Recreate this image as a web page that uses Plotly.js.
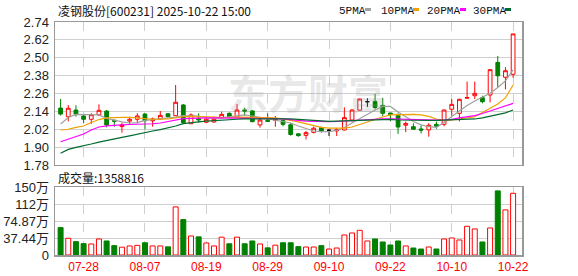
<!DOCTYPE html>
<html><head><meta charset="utf-8">
<script src="https://cdn.plot.ly/plotly-3.0.1.min.js"></script>
<style>html,body{margin:0;padding:0;background:#fff}#chart{width:578px;height:276px}</style>
</head><body><div id="chart"></div>
<script>
const dates = ['07-23','07-24','07-25','07-28','07-29','07-30','07-31','08-01','08-04','08-05','08-06','08-07','08-08','08-11','08-12','08-13','08-14','08-15','08-18','08-19','08-20','08-21','08-22','08-25','08-26','08-27','08-28','08-29','09-01','09-02','09-03','09-04','09-05','09-08','09-09','09-10','09-11','09-12','09-15','09-16','09-17','09-18','09-19','09-22','09-23','09-24','09-25','09-26','09-29','09-30','10-09','10-10','10-13','10-14','10-15','10-16','10-17','10-20','10-21','10-22'];
const open  = [2.162,2.104,2.149,2.109,2.087,2.116,2.142,2.080,2.038,2.075,2.087,2.122,2.077,2.089,2.124,2.111,2.183,2.057,2.093,2.067,2.069,2.098,2.127,2.102,2.149,2.143,2.049,2.080,2.080,2.078,2.050,1.989,1.979,1.999,2.031,2.013,2.009,2.015,2.082,2.148,2.205,2.207,2.180,2.129,2.113,2.047,2.037,2.022,2.016,2.053,2.053,2.154,2.127,2.228,2.245,2.232,2.250,2.469,2.369,2.389];
const high  = [2.223,2.183,2.181,2.116,2.127,2.187,2.149,2.085,2.064,2.104,2.127,2.127,2.098,2.142,2.127,2.317,2.189,2.127,2.127,2.098,2.104,2.138,2.133,2.189,2.165,2.149,2.100,2.127,2.109,2.093,2.062,1.993,2.008,2.038,2.038,2.020,2.027,2.167,2.154,2.225,2.228,2.257,2.231,2.129,2.127,2.072,2.060,2.046,2.060,2.071,2.152,2.223,2.225,2.340,2.340,2.245,2.420,2.512,2.437,2.660];
const low   = [2.112,2.073,2.104,2.060,2.055,2.109,2.033,2.037,1.997,2.049,2.060,2.020,2.037,2.082,2.100,2.109,2.060,2.057,2.064,2.060,2.064,2.093,2.100,2.095,2.110,2.067,2.031,2.071,2.037,2.040,1.977,1.970,1.952,1.992,1.997,1.975,1.975,2.013,2.071,2.147,2.170,2.154,2.107,2.073,1.989,2.000,2.015,1.992,1.970,2.023,2.040,2.111,2.073,2.227,2.223,2.194,2.201,2.302,2.288,2.366];
const close = [2.122,2.161,2.122,2.087,2.118,2.147,2.049,2.074,2.049,2.087,2.109,2.077,2.089,2.113,2.104,2.201,2.064,2.116,2.082,2.087,2.087,2.120,2.104,2.149,2.142,2.071,2.082,2.073,2.087,2.053,1.985,1.977,1.997,2.027,2.006,2.013,2.016,2.098,2.149,2.223,2.205,2.166,2.127,2.119,2.035,2.059,2.020,2.014,2.047,2.040,2.149,2.187,2.221,2.233,2.261,2.205,2.420,2.379,2.413,2.660];
// volume in 万 shares
const volume = [60.3,36.8,29.4,25.0,24.3,35.3,30.9,20.6,17.2,19.9,21.3,27.0,19.9,19.9,18.0,105.9,78.0,41.9,40.0,26.5,19.9,39.3,24.7,39.3,24.7,30.9,24.3,15.8,21.6,27.0,27.0,18.4,17.6,17.6,20.6,13.2,15.4,44.1,48.5,54.4,30.9,35.3,28.7,22.0,30.9,19.9,15.4,13.2,17.6,13.2,35.3,37.5,33.1,63.2,57.4,28.7,59.6,141.2,99.3,135.88];
const ma5  = [2.055,2.099,2.120,2.120,2.119,2.116,2.093,2.079,2.069,2.062,2.065,2.079,2.084,2.087,2.096,2.102,2.112,2.112,2.109,2.096,2.093,2.096,2.102,2.112,2.116,2.109,2.099,2.092,2.082,2.072,2.062,2.042,2.025,2.008,2.004,2.004,2.012,2.032,2.062,2.092,2.119,2.149,2.173,2.173,2.136,2.102,2.072,2.049,2.037,2.033,2.065,2.106,2.146,2.180,2.210,2.233,2.261,2.300,2.345,2.418];
const ma10 = [2.015,2.020,2.032,2.042,2.065,2.085,2.096,2.100,2.100,2.100,2.096,2.089,2.087,2.087,2.089,2.096,2.104,2.106,2.104,2.102,2.100,2.099,2.099,2.102,2.102,2.102,2.102,2.099,2.096,2.089,2.079,2.069,2.056,2.042,2.033,2.027,2.027,2.027,2.035,2.052,2.069,2.089,2.102,2.116,2.119,2.120,2.120,2.116,2.106,2.089,2.078,2.082,2.089,2.096,2.104,2.133,2.159,2.190,2.230,2.317];
const ma20 = [1.936,1.953,1.971,1.988,2.015,2.035,2.042,2.047,2.050,2.052,2.053,2.055,2.057,2.062,2.071,2.080,2.091,2.093,2.096,2.096,2.096,2.096,2.096,2.096,2.096,2.093,2.093,2.092,2.091,2.089,2.086,2.079,2.075,2.072,2.071,2.071,2.072,2.075,2.079,2.082,2.084,2.087,2.089,2.089,2.087,2.086,2.084,2.082,2.082,2.082,2.082,2.086,2.096,2.102,2.112,2.126,2.143,2.159,2.176,2.194];
const ma30 = [1.859,1.885,1.898,1.908,1.921,1.934,1.946,1.956,1.965,1.975,1.987,2.000,2.008,2.018,2.028,2.042,2.058,2.062,2.069,2.075,2.079,2.082,2.085,2.087,2.089,2.090,2.091,2.091,2.091,2.090,2.089,2.086,2.082,2.079,2.075,2.073,2.075,2.077,2.080,2.082,2.082,2.084,2.086,2.086,2.082,2.080,2.079,2.077,2.079,2.080,2.082,2.082,2.084,2.087,2.089,2.096,2.106,2.116,2.130,2.149];
const tickDates = ['07-28','08-07','08-19','08-29','09-10','09-22','10-10','10-22'];
const priceTicks = [1.78,1.90,2.02,2.14,2.26,2.38,2.50,2.62,2.74];
const volTicks = [0,37.44,74.87,112.3,149.74];
const volTickText = ['0','37.44万','74.87万','112万','150万'];
const maNames = ['5PMA','10PMA','20PMA','30PMA'];
const titleText = '凌钢股份[600231] 2025-10-22 15:00';
const volLabel = '成交量:1358816';
const watermark = '东方财富';

const RED = '#ff0000', GREEN = '#008000';
const MA_COLORS = ['#a0a0a0','#f0a000','#ff00ff','#006b2e'];
const idx = dates.map((d,i)=>i);
const isDoji = idx.map(i=>open[i]===close[i]);
const pick = (arr, want) => idx.filter(i=>isDoji[i]===want).map(i=>arr[i]);

const traces = [];
traces.push({type:'candlestick', x:pick(idx,false), open:pick(open,false), high:pick(high,false), low:pick(low,false), close:pick(close,false),
  xaxis:'x', yaxis:'y', whiskerwidth:0, hoverinfo:'skip',
  increasing:{line:{color:RED,width:1}, fillcolor:'#ffffff'},
  decreasing:{line:{color:GREEN,width:1}, fillcolor:GREEN}});
traces.push({type:'candlestick', x:pick(idx,true), open:pick(open,true), high:pick(high,true), low:pick(low,true), close:pick(close,true),
  xaxis:'x', yaxis:'y', whiskerwidth:0, hoverinfo:'skip',
  increasing:{line:{color:'#000',width:1}, fillcolor:'#000'},
  decreasing:{line:{color:'#000',width:1}, fillcolor:'#000'}});
[ma5,ma10,ma20,ma30].forEach((m,k)=>traces.push({type:'scatter', mode:'lines', x:idx, y:m, xaxis:'x', yaxis:'y',
  line:{color:MA_COLORS[k], width:1.2}, hoverinfo:'skip'}));
const up = idx.map(i=>close[i]>=open[i]);
traces.push({type:'bar', x:idx, y:volume, xaxis:'x2', yaxis:'y2', width:0.65, hoverinfo:'skip',
  marker:{color:up.map(u=>u?'#ffffff':GREEN), line:{color:up.map(u=>u?RED:GREEN), width:1}}});

// pixel helpers for paper placement (plot area 55..522 x, 22..255 y)
const px = x => (x-55)/467, py = y => (255-y)/233;

// legend: names + colour chips
const legendX = [337, 379, 425, 471], chipX = [365, 413, 460, 505];
const annotations = [
  {xref:'paper', yref:'paper', x:px(308), y:py(92), xanchor:'center', yanchor:'middle', showarrow:false, text:watermark,
    font:{family:'Noto Sans CJK SC', size:40, color:'rgba(150,150,155,0.22)', weight:'bold'}},
  {xref:'paper', yref:'paper', x:px(56), y:py(11), xanchor:'left', yanchor:'middle', showarrow:false, text:titleText,
    font:{family:'Noto Sans CJK SC', size:12, color:'#111'}},
  {xref:'paper', yref:'paper', x:px(56), y:py(177), xanchor:'left', yanchor:'middle', showarrow:false, text:volLabel,
    font:{family:'Noto Sans CJK SC', size:12, color:'#111'}}
];
const shapes = [];
maNames.forEach((n,k)=>{
  annotations.push({xref:'paper', yref:'paper', x:px(legendX[k]), y:py(11), xanchor:'left', yanchor:'middle', showarrow:false,
    text:n, font:{family:'Liberation Mono', size:11, color:'#111'}});
  shapes.push({type:'rect', xref:'paper', yref:'paper', x0:px(chipX[k]), x1:px(chipX[k]+6), y0:py(11), y1:py(8),
    line:{width:0}, fillcolor:MA_COLORS[k]});
});

const tickIdx = tickDates.map(d=>dates.indexOf(d));
const gridc = '#cfcfcf';
const xBase = {range:[-0.73,60.16], tickvals:tickIdx, ticktext:tickDates, showgrid:true, gridcolor:gridc, griddash:'dash', gridwidth:1,
  showline:true, mirror:true, linecolor:'#999', linewidth:1.5, zeroline:false, ticks:'', fixedrange:true};
const layout = {
  width:578, height:276, margin:{l:55, r:56, t:22, b:21},
  paper_bgcolor:'#fff', plot_bgcolor:'#fff', showlegend:false,
  xaxis:Object.assign({}, xBase, {anchor:'y', showticklabels:false, rangeslider:{visible:false}}),
  xaxis2:Object.assign({}, xBase, {anchor:'y2', showticklabels:true, rangeslider:{visible:false},
    tickfont:{family:'Liberation Sans, Arial', size:12, color:'#ff0000'}}),
  yaxis:{domain:[0.3863,1], range:[1.78,2.74], tickvals:priceTicks, tickformat:'.2f', showgrid:true, gridcolor:gridc,
    showline:true, mirror:true, linecolor:'#999', linewidth:1.5, zeroline:false, ticks:'', ticklabelstandoff:2,
    tickfont:{family:'Liberation Sans, Arial', size:13, color:'#222'}},
  yaxis2:{domain:[0,0.2918], range:[0,149.74], tickvals:volTicks, ticktext:volTickText, showgrid:true, gridcolor:gridc,
    showline:true, mirror:true, linecolor:'#999', linewidth:1.5, zeroline:false, ticks:'', ticklabelstandoff:2,
    tickfont:{family:'Liberation Sans, Noto Sans CJK SC', size:13, color:'#222'}},
  shapes:shapes,
  annotations:annotations
};
Plotly.newPlot('chart', traces, layout, {staticPlot:true, displayModeBar:false});
</script></body></html>
